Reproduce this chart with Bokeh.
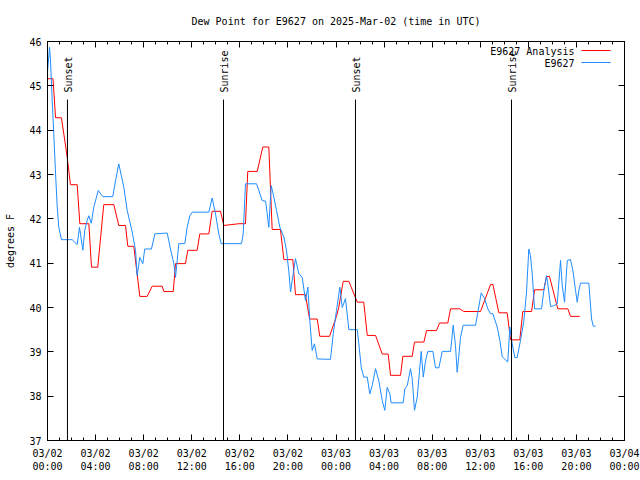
from bokeh.plotting import figure
from bokeh.models import FixedTicker, LinearAxis, Range1d, Label, Arrow
from bokeh.embed import file_html
from bokeh.resources import INLINE
from bokeh.core.properties import value
import math

FONT = "DejaVu Sans Mono"

# hours since 2025-03-02 00:00 UTC
analysis_hours = [0.0, 0.46, 0.67, 1.16, 1.64, 1.91, 2.47, 2.69, 3.44, 3.66, 4.18, 4.68, 5.52, 5.93,
                  6.49, 6.68, 7.18, 7.68, 8.29, 8.71, 9.54, 9.68, 10.46, 10.65, 11.48, 11.67, 12.45,
                  12.67, 13.42, 13.70, 14.39, 14.67, 15.92, 16.47, 16.66, 17.45, 17.91, 18.41, 18.69,
                  19.38, 19.66, 20.41, 20.63, 21.46, 21.80, 22.44, 22.65, 23.46, 24.04, 24.23, 24.60,
                  25.07, 25.77, 26.31, 26.60, 27.29, 27.85, 28.34, 28.54, 29.37, 29.56, 30.34, 30.53,
                  31.31, 31.53, 32.36, 32.61, 33.30, 33.53, 34.30, 34.63, 36.02, 36.86, 37.05, 37.55,
                  38.24, 38.52, 39.29, 39.54, 40.27, 40.52, 41.29, 41.51, 41.76, 42.45, 43.29, 43.51,
                  44.28]
analysis_dewpt = [45.16, 45.16, 44.28, 44.28, 43.39, 42.77, 42.77, 41.89, 41.89, 40.91, 40.91, 42.32,
                  42.32, 41.85, 41.85, 41.38, 41.38, 40.25, 40.25, 40.48, 40.48, 40.36, 40.36, 40.99,
                  40.99, 41.29, 41.29, 41.66, 41.66, 42.17, 42.17, 41.85, 41.89, 41.89, 43.07, 43.07,
                  43.62, 43.62, 41.76, 41.76, 41.08, 41.08, 40.29, 40.29, 39.74, 39.74, 39.35, 39.35,
                  39.80, 40.00, 40.59, 40.59, 40.12, 40.12, 39.37, 39.37, 38.95, 38.95, 38.47, 38.47,
                  38.90, 38.90, 39.22, 39.22, 39.48, 39.48, 39.65, 39.65, 39.97, 39.97, 39.91, 39.91,
                  40.52, 40.52, 39.88, 39.88, 39.27, 39.27, 39.91, 39.91, 40.40, 40.40, 40.70, 40.70,
                  39.97, 39.97, 39.80, 39.80]

obs_hours = [0.0, 0.17, 0.25, 0.39, 0.52, 0.67, 0.81, 0.94, 1.16, 2.05, 2.47, 2.66, 2.94, 3.10, 3.30,
             3.44, 3.64, 3.85, 4.22, 4.60, 5.43, 5.66, 5.93, 6.35, 6.63, 7.05, 7.32, 7.46, 7.68, 7.93,
             8.09, 8.65, 8.93, 9.96, 10.23, 10.51, 10.65, 10.79, 10.92, 11.42, 11.62, 11.84, 12.04,
             13.42, 13.70, 13.98, 14.25, 14.45, 16.14, 16.28, 16.47, 17.39, 17.58, 17.86, 18.14,
             18.28, 18.41, 18.61, 18.83, 19.05, 19.33, 19.66, 19.88, 20.07, 20.22, 20.44, 20.63,
             20.91, 21.19, 21.46, 21.66, 21.82, 22.02, 22.21, 22.44, 23.54, 23.77, 24.04, 24.32,
             24.52, 24.79, 25.07, 25.77, 25.90, 26.10, 26.31, 26.60, 26.81, 27.01, 27.29, 27.56,
             27.85, 28.06, 28.26, 28.48, 28.59, 29.59, 29.73, 29.93, 30.20, 30.34, 30.53, 30.76,
             30.95, 31.09, 31.26, 31.45, 31.64, 32.06, 32.28, 32.56, 32.84, 33.53, 33.75, 33.94,
             34.08, 34.21, 34.36, 34.58, 35.61, 35.80, 36.08, 36.36, 36.63, 36.86, 37.05, 37.41,
             37.63, 37.83, 38.29, 38.46, 38.66, 38.88, 39.07, 39.35, 39.63, 39.85, 40.04, 40.18,
             40.32, 40.52, 41.10, 41.29, 41.51, 41.62, 41.85, 42.12, 42.40, 42.68, 42.82, 43.01,
             43.24, 43.51, 43.73, 43.93, 44.07, 44.20, 44.34, 45.03, 45.26, 45.40, 45.59]
obs_dewpt = [45.31, 45.87, 45.57, 44.67, 43.92, 43.02, 42.26, 41.81, 41.53, 41.53, 41.42, 41.81, 41.29,
             41.74, 41.96, 42.07, 41.90, 42.26, 42.64, 42.50, 42.50, 42.86, 43.24, 42.71, 42.19,
             41.70, 41.29, 40.72, 41.13, 40.99, 41.32, 41.32, 41.66, 41.68, 41.32, 40.99, 40.68,
             41.06, 41.44, 41.44, 41.81, 42.07, 42.15, 42.15, 42.47, 42.11, 41.66, 41.44, 41.44,
             41.66, 42.79, 42.79, 42.64, 42.41, 42.40, 42.11, 41.81, 42.75, 42.49, 42.19, 41.81,
             41.59, 41.29, 40.83, 40.35, 40.76, 41.10, 40.76, 40.68, 40.16, 40.46, 39.71, 39.03,
             39.18, 38.84, 38.83, 39.41, 39.93, 40.46, 40.00, 40.20, 39.50, 39.50, 39.18, 38.65,
             38.43, 38.43, 38.05, 38.24, 38.62, 38.35, 37.90, 37.68, 38.20, 38.05, 37.85, 37.85,
             38.17, 38.24, 38.62, 38.39, 37.68, 37.98, 38.58, 39.01, 38.43, 38.80, 39.01, 39.01,
             38.64, 38.64, 39.01, 39.01, 39.60, 39.14, 38.54, 38.88, 39.33, 39.60, 39.60, 39.89,
             40.33, 40.20, 39.97, 39.86, 39.86, 39.56, 39.26, 38.89, 38.77, 39.56, 39.18, 38.87,
             38.87, 39.26, 39.70, 40.35, 41.32, 41.17, 40.76, 39.97, 39.97, 40.38, 40.72, 40.53,
             40.02, 40.04, 40.08, 41.06, 40.50, 40.12, 41.06, 41.08, 40.80, 40.38, 40.12, 40.38,
             40.55, 40.55, 39.74, 39.58, 39.58]

sun_hours = [1.66, 14.64, 25.62, 38.60]
sun_labels = ["Sunset", "Sunrise", "Sunset", "Sunrise"]
sun_line_top = 44.69

x_tick_hours = [0, 4, 8, 12, 16, 20, 24, 28, 32, 36, 40, 44, 48]
x_tick_labels = ["03/02\n00:00", "03/02\n04:00", "03/02\n08:00", "03/02\n12:00", "03/02\n16:00",
                 "03/02\n20:00", "03/03\n00:00", "03/03\n04:00", "03/03\n08:00", "03/03\n12:00",
                 "03/03\n16:00", "03/03\n20:00", "03/04\n00:00"]
x_minor_hours = list(range(0, 49))
y_ticks = [37, 38, 39, 40, 41, 42, 43, 44, 45, 46]

series_names = ["E9627 Analysis", "E9627"]
series_colors = ["#ff0000", "#1e8cff"]

p = figure(frame_width=577, frame_height=399,
           x_range=Range1d(0, 48), y_range=Range1d(37, 46),
           output_backend="svg", toolbar_location=None,
           min_border_left=47, min_border_right=16, min_border_top=41, min_border_bottom=40,
           title="Dew Point for E9627 on 2025-Mar-02 (time in UTC)")
p.title.align = "center"
p.title.vertical_align = "top"
p.title.text_font = FONT
p.title.text_font_size = "10px"
p.title.text_font_style = "normal"
p.title.text_color = "black"
p.title.standoff = 26
p.background_fill_color = "white"
p.border_fill_color = "white"
p.outline_line_color = "black"
p.outline_line_width = 1
p.xgrid.visible = False
p.ygrid.visible = False

xt = FixedTicker(ticks=x_tick_hours, minor_ticks=x_minor_hours)
yt = FixedTicker(ticks=y_ticks, minor_ticks=[])

def style_axis(ax, labels=True):
    ax.axis_line_color = "black"
    ax.major_tick_line_color = "black"
    ax.minor_tick_line_color = "black"
    ax.major_tick_in = 6
    ax.major_tick_out = 0
    ax.minor_tick_in = 3
    ax.minor_tick_out = 0
    ax.major_label_text_font = FONT
    if labels:
        ax.major_label_text_font_size = "10px"
        ax.major_label_text_color = "black"
        ax.major_label_standoff = 6
    else:
        ax.major_label_text_font_size = "1px"
        ax.major_label_text_color = None
        ax.major_label_standoff = 0

p.xaxis.ticker = xt
p.yaxis.ticker = yt
style_axis(p.xaxis[0])
style_axis(p.yaxis[0])
p.xaxis.major_label_overrides = dict(zip(x_tick_hours, x_tick_labels))
p.xaxis.major_label_standoff = 7
p.yaxis.axis_label = "degrees F"
p.yaxis.axis_label_text_font = FONT
p.yaxis.axis_label_text_font_size = "10px"
p.yaxis.axis_label_text_font_style = "normal"
p.yaxis.axis_label_text_color = "black"
p.yaxis.axis_label_standoff = 10

top_ax = LinearAxis(ticker=xt)
style_axis(top_ax, labels=False)
p.add_layout(top_ax, "above")
right_ax = LinearAxis(ticker=yt)
style_axis(right_ax, labels=False)
right_ax.minor_tick_in = 0
p.add_layout(right_ax, "right")

p.line(analysis_hours, analysis_dewpt, line_color=series_colors[0], line_width=1)
p.line(obs_hours, obs_dewpt, line_color=series_colors[1], line_width=1)

p.segment(x0=sun_hours, y0=[37] * len(sun_hours), x1=sun_hours, y1=[sun_line_top] * len(sun_hours),
          line_color="black", line_width=1)
p.text(x=sun_hours, y=[sun_line_top] * len(sun_hours), text=sun_labels, angle=math.pi / 2,
       text_align="left", text_baseline="middle", y_offset=-7, x_offset=1,
       text_font=value(FONT), text_font_size="10px", text_color="black")

# legend (gnuplot style: text on the left, sample on the right)
for i, (name, col) in enumerate(zip(series_names, series_colors)):
    ys = 389 - 12 * i
    p.add_layout(Label(x=527, y=ys, x_units="screen", y_units="screen", text=name,
                       text_align="right", text_baseline="middle", text_font=FONT,
                       text_font_size="10px", text_color="black"))
    p.add_layout(Arrow(x_start=534, y_start=ys + 1, x_end=563, y_end=ys + 1,
                       start_units="screen", end_units="screen", end=None,
                       line_color=col, line_width=1))

open("out.html", "w").write(file_html(p, INLINE))
